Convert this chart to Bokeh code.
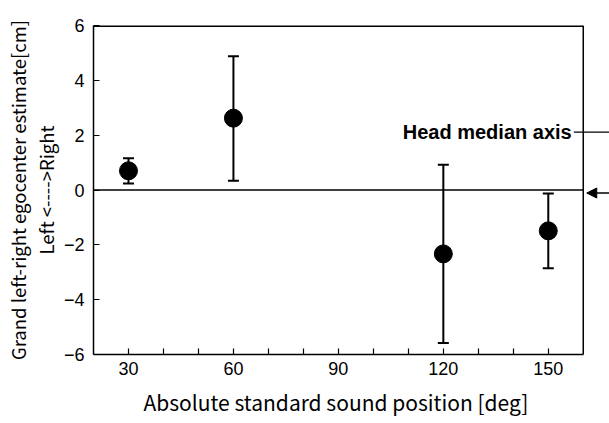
from bokeh.plotting import figure
from bokeh.models import (ColumnDataSource, Whisker, TeeHead, Label, Arrow,
                          NormalHead, FixedTicker, Range1d, Title)
from bokeh.embed import file_html
from bokeh.resources import INLINE

# data
positions = [30, 60, 120, 150]
means = [0.7, 2.62, -2.33, -1.49]
upper = [1.16, 4.88, 0.92, -0.13]
lower = [0.24, 0.34, -5.58, -2.85]

x_major = [30, 60, 90, 120, 150]
x_minor = [40, 50, 70, 80, 100, 110, 130, 140]
y_ticks = [-6, -4, -2, 0, 2, 4, 6]

# axes box (the drawn frame) and the extra room to its right for the annotations
x_lo, x_hi, x_edge = 20, 160, 167.5
y_lo, y_hi = -6, 6
median_y = 2.11
arrow_y = -0.11

src = ColumnDataSource(dict(x=positions, y=means, upper=upper, lower=lower))

p = figure(width=609, height=423, output_backend="svg", toolbar_location=None,
           x_range=Range1d(x_lo, x_edge), y_range=Range1d(y_lo, y_hi),
           min_border_left=93, min_border_right=0, min_border_top=25, min_border_bottom=68)
p.xgrid.visible = False
p.ygrid.visible = False
p.outline_line_color = None
p.background_fill_color = "white"
p.border_fill_color = "white"

p.xaxis.ticker = FixedTicker(ticks=x_major, minor_ticks=x_minor)
p.yaxis.ticker = FixedTicker(ticks=y_ticks)
for ax in (p.xaxis[0], p.yaxis[0]):
    ax.axis_line_color = "black"
    ax.axis_line_width = 1.5
    ax.major_tick_in = 6
    ax.major_tick_out = 0
    ax.minor_tick_in = 6
    ax.minor_tick_out = 0
    ax.major_tick_line_width = 1.2
    ax.minor_tick_line_width = 1.2
    ax.major_label_text_font = "Liberation Sans"
    ax.major_label_text_font_size = "18px"
    ax.major_label_text_color = "black"
p.xaxis.bounds = (x_lo, x_hi)
p.yaxis.minor_tick_line_color = None
p.xaxis.major_label_standoff = 7
p.yaxis.major_label_standoff = 9

xlab = "Absolute standard sound position [deg]"
p.add_layout(Title(text=xlab, align="left", offset=50, text_font="Noto Sans CJK JP",
                   text_font_size="21px", text_font_style="normal", text_color="black",
                   text_line_height=0.9, standoff=14), "below")

ylab1 = "Grand left-right egocenter estimate[cm]"
ylab2 = "Left <---->Right"
p.add_layout(Title(text=ylab2, align="center", text_font="Noto Sans CJK JP",
                   text_font_size="18.5px", text_font_style="normal", text_color="black",
                   standoff=3), "left")
p.add_layout(Title(text=ylab1, align="center", text_font="Noto Sans CJK JP",
                   text_font_size="18.5px", text_font_style="normal", text_color="black",
                   standoff=-3), "left")

# frame box (top, right) and the zero line
p.segment(x0=[x_lo, x_hi], y0=[y_hi, y_lo], x1=[x_hi, x_hi], y1=[y_hi, y_hi],
          line_color="black", line_width=[3, 1.5])
p.segment(x0=[x_lo], y0=[0], x1=[x_hi], y1=[0], line_color="black", line_width=1.5)

p.add_layout(Whisker(source=src, base="x", upper="upper", lower="lower",
                     line_color="black", line_width=2,
                     upper_head=TeeHead(size=11, line_width=2, line_color="black"),
                     lower_head=TeeHead(size=11, line_width=2, line_color="black")))
p.scatter("x", "y", source=src, size=18, color="black")

p.add_layout(Label(x=156.7, y=median_y, text="Head median axis", text_font="Liberation Sans",
                   text_font_style="bold", text_font_size="20px", text_align="right",
                   text_baseline="middle", text_color="black"))
p.segment(x0=[157.3], y0=[median_y], x1=[x_edge], y1=[median_y], line_color="black", line_width=1.2)
p.add_layout(Arrow(x_start=x_edge, y_start=arrow_y, x_end=161.0, y_end=arrow_y,
                   end=NormalHead(size=10, fill_color="black", line_color="black"),
                   line_color="black", line_width=1.5))

open("out.html", "w").write(file_html(p, INLINE))
